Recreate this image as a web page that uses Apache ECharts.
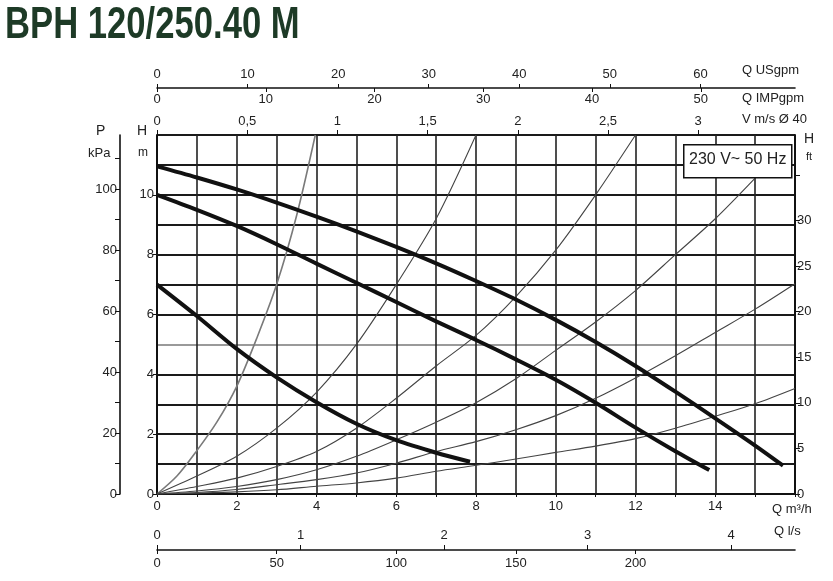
<!DOCTYPE html>
<html><head><meta charset="utf-8">
<script src="https://cdn.jsdelivr.net/npm/echarts@6/dist/echarts.min.js"></script>
<style>html,body{margin:0;padding:0;background:#fff}#c{width:833px;height:581px}</style>
</head><body><div id="c"></div>
<script>
// ---- text ----
const chartTitle = 'BPH 120/250.40 M';
const boxText = '230 V~ 50 Hz';

// ---- tick values ----
const qM3hLabels = [0, 2, 4, 6, 8, 10, 12, 14];
const hMLabels = [0, 2, 4, 6, 8, 10];
const pKpaTicks = [0, 10, 20, 30, 40, 50, 60, 70, 80, 90, 100, 110];
const pKpaLabels = [0, 20, 40, 60, 80, 100];
const hFtTicks = [0, 5, 10, 15, 20, 25, 30, 35];
const hFtLabels = [0, 5, 10, 15, 20, 25, 30];
const vLabels = [0, 0.5, 1, 1.5, 2, 2.5, 3];
const usgpmLabels = [0, 10, 20, 30, 40, 50, 60];
const impgpmLabels = [0, 10, 20, 30, 40, 50];
const lsLabels = [0, 1, 2, 3, 4];
const lminLabels = [0, 50, 100, 150, 200];

// ---- pump curves (Q m3/h, H m) ----
const pumpHighQ = [0, 1, 2, 3, 4, 5, 6, 7, 8, 9, 10, 11, 12, 13, 14, 15, 15.7];
const pumpHighH = [10.95, 10.58, 10.18, 9.74, 9.27, 8.78, 8.26, 7.71, 7.12, 6.5, 5.82, 5.08, 4.28, 3.42, 2.53, 1.62, 0.95];
const pumpMidQ = [0, 1, 2, 3, 4, 5, 6, 7, 8, 9, 10, 11, 12, 13, 13.85];
const pumpMidH = [10, 9.5, 8.96, 8.35, 7.7, 7.06, 6.42, 5.77, 5.15, 4.5, 3.82, 3.05, 2.22, 1.43, 0.8];
const pumpLowQ = [0, 1, 2, 3, 4, 5, 6, 7, 7.85];
const pumpLowH = [7, 5.95, 4.85, 3.9, 3.07, 2.35, 1.8, 1.38, 1.08];

// ---- system curves ----
const sys1Q = [0, 0.5, 1, 1.5, 2, 2.5, 3, 3.5, 3.97];
const sys1H = [0, 0.6, 1.45, 2.4, 3.6, 5.2, 7.0, 9.3, 12];
const sys2Q = [0, 1, 2, 3, 4, 5, 6, 7, 8];
const sys2H = [0, 0.6, 1.26, 2.2, 3.4, 5.0, 7.0, 9.2, 12];
const sys3Q = [0, 1, 2, 3, 4, 5, 6, 7, 8, 9, 10, 11, 12];
const sys3H = [0, 0.25, 0.53, 0.92, 1.42, 2.2, 3.2, 4.28, 5.3, 6.6, 8.15, 10.0, 12];
const sys4Q = [0, 1, 2, 3, 4, 5, 6, 7, 8, 9, 10, 11, 12, 13, 14, 15.03];
const sys4H = [0, 0.1, 0.25, 0.48, 0.81, 1.26, 1.81, 2.4, 3.05, 3.85, 4.8, 5.75, 6.8, 8.0, 9.2, 10.6];
const sys5Q = [0, 1, 2, 3, 4, 5, 6, 7, 8, 9, 10, 11, 12, 13, 14, 15, 16];
const sys5H = [0, 0.05, 0.15, 0.31, 0.48, 0.7, 1.03, 1.42, 1.75, 2.15, 2.62, 3.2, 3.88, 4.62, 5.4, 6.18, 7.03];
const sys6Q = [0, 1, 2, 3, 4, 5, 6, 7, 8, 9, 10, 11, 12, 13, 14, 15, 16];
const sys6H = [0, 0.03, 0.07, 0.14, 0.26, 0.37, 0.53, 0.76, 0.96, 1.17, 1.39, 1.6, 1.85, 2.2, 2.6, 3.02, 3.53];

// ---- unit conversions of the Q m3/h and H m scales ----
const Q_MAX = 16, H_MAX = 12;
const toVms = Q_MAX / 3600 / (Math.PI * 0.02 * 0.02);
const toUSgpm = Q_MAX * 4.4029;
const toIMPgpm = Q_MAX * 3.6662;
const toLs = Q_MAX / 3.6;
const toLmin = Q_MAX * 1000 / 60;
const toKpa = H_MAX * 9.80665;
const toFt = H_MAX / 0.3048;

const FONT = '"Liberation Sans Narrow","Liberation Sans",Arial,sans-serif';
const TXT = '#222';
const lbl = (extra) => Object.assign({ color: TXT, fontFamily: FONT, fontSize: 13 }, extra || {});
const zip = (qs, hs) => qs.map((q, i) => [q, hs[i]]);

const hLineColors = [];
for (let i = 0; i <= 12; i++) hLineColors.push(i === 5 ? '#9a9a9a' : '#1a1a1a');

const chart = echarts.init(document.getElementById('c'), null, { renderer: 'canvas' });

function pumpSeries(q, h) {
  return { type: 'line', xAxisIndex: 0, yAxisIndex: 0, data: zip(q, h), smooth: 0.3, showSymbol: false,
    lineStyle: { color: '#111', width: 4 }, z: 5, animation: false };
}
function sysSeries(q, h, color, w) {
  return { type: 'line', xAxisIndex: 0, yAxisIndex: 0, data: zip(q, h), smooth: 0.3, showSymbol: false,
    lineStyle: { color: color, width: w }, z: 4, animation: false };
}
const noZero = (o) => Object.assign({ onZero: false }, o);

const option = {
  backgroundColor: '#fff',
  animation: false,
  grid: { left: 157, right: 38, top: 135, bottom: 87, containLabel: false },
  xAxis: [
    { type: 'value', position: 'bottom', min: 0, max: Q_MAX, interval: 1,
      axisLine: noZero({ show: true, lineStyle: { color: '#111', width: 2 } }),
      axisTick: { show: true, length: 3, lineStyle: { color: '#111' } },
      axisLabel: Object.assign(lbl({ margin: 6 }), { customValues: qM3hLabels }),
      splitLine: { show: true, lineStyle: { color: '#222', width: 1.6 } } },
    { type: 'value', position: 'top', offset: 0, min: 0, max: toVms,
      axisLine: noZero({ show: false }),
      axisTick: { show: true, length: 5, customValues: vLabels, lineStyle: { color: '#111' } },
      axisLabel: Object.assign(lbl({ margin: 7, formatter: v => String(v).replace('.', ',') }), { customValues: vLabels }),
      splitLine: { show: false } },
    { type: 'value', position: 'top', offset: 47, min: 0, max: toUSgpm,
      axisLine: noZero({ show: true, lineStyle: { color: '#111', width: 1.6 } }),
      axisTick: { show: true, length: 4, customValues: usgpmLabels, lineStyle: { color: '#111' } },
      axisLabel: Object.assign(lbl({ margin: 7 }), { customValues: usgpmLabels }),
      splitLine: { show: false } },
    { type: 'value', position: 'top', offset: 47, min: 0, max: toIMPgpm,
      axisLine: noZero({ show: false }),
      axisTick: { show: true, inside: true, length: 4, customValues: impgpmLabels, lineStyle: { color: '#111' } },
      axisLabel: Object.assign(lbl({ margin: 5, inside: true }), { customValues: impgpmLabels }),
      splitLine: { show: false } },
    { type: 'value', position: 'bottom', offset: 56, min: 0, max: toLs,
      axisLine: noZero({ show: true, lineStyle: { color: '#111', width: 1.6 } }),
      axisTick: { show: true, inside: true, length: 5, customValues: lsLabels, lineStyle: { color: '#111' } },
      axisLabel: Object.assign(lbl({ margin: 8, inside: true }), { customValues: lsLabels }),
      splitLine: { show: false } },
    { type: 'value', position: 'bottom', offset: 56, min: 0, max: toLmin,
      axisLine: noZero({ show: false }),
      axisTick: { show: true, length: 4, customValues: lminLabels, lineStyle: { color: '#111' } },
      axisLabel: Object.assign(lbl({ margin: 7 }), { customValues: lminLabels }),
      splitLine: { show: false } }
  ],
  yAxis: [
    { type: 'value', position: 'left', min: 0, max: H_MAX, interval: 1,
      axisLine: noZero({ show: true, lineStyle: { color: '#111', width: 2 } }),
      axisTick: { show: false },
      axisLabel: { show: false },
      splitLine: { show: true, lineStyle: { color: hLineColors, width: 1.8 } } },
    { type: 'value', position: 'left', offset: 37, min: 0, max: toKpa,
      axisLine: noZero({ show: true, lineStyle: { color: '#111', width: 1.6 } }),
      axisTick: { show: true, length: 5, customValues: pKpaTicks, lineStyle: { color: '#111' } },
      axisLabel: Object.assign(lbl({ margin: 3 }), { customValues: pKpaLabels }),
      splitLine: { show: false } },
    { type: 'value', position: 'right', offset: 0, min: 0, max: toFt,
      axisLine: noZero({ show: true, lineStyle: { color: '#111', width: 2 } }),
      axisTick: { show: true, length: 5, customValues: hFtTicks, lineStyle: { color: '#111' } },
      axisLabel: Object.assign(lbl({ margin: 2 }), { customValues: hFtLabels }),
      splitLine: { show: false } },
    { type: 'value', position: 'left', offset: 0, min: 0, max: H_MAX,
      axisLine: noZero({ show: false }),
      axisTick: { show: true, length: 4, customValues: hMLabels, lineStyle: { color: '#111' } },
      axisLabel: Object.assign(lbl({ margin: 3 }), { customValues: hMLabels }),
      splitLine: { show: false } }
  ],
  graphic: [
    { type: 'text', left: 5, top: 3, scaleX: 0.77, originX: 0,
      style: { text: chartTitle, fill: '#1d3a26', font: 'bold 45px "Liberation Sans",Arial,sans-serif' } },
    { type: 'rect', left: 683, top: 144, z: 20, shape: { width: 108, height: 33 },
      style: { fill: '#fff', stroke: '#111', lineWidth: 1.5 } },
    { type: 'text', left: 689, top: 152, z: 21,
      style: { text: boxText, fill: TXT, font: '16px ' + FONT } },
    { type: 'text', left: 742, top: 64, style: { text: 'Q USgpm', fill: TXT, font: '13px ' + FONT } },
    { type: 'text', left: 742, top: 92, style: { text: 'Q IMPgpm', fill: TXT, font: '13px ' + FONT } },
    { type: 'text', left: 742, top: 113, style: { text: 'V m/s Ø 40', fill: TXT, font: '13px ' + FONT } },
    { type: 'text', left: 804, top: 132, style: { text: 'H', fill: TXT, font: '14px ' + FONT } },
    { type: 'text', left: 806, top: 151, style: { text: 'ft', fill: TXT, font: '11px ' + FONT } },
    { type: 'text', left: 96, top: 124, style: { text: 'P', fill: TXT, font: '14px ' + FONT } },
    { type: 'text', left: 88, top: 147, style: { text: 'kPa', fill: TXT, font: '13px ' + FONT } },
    { type: 'text', left: 137, top: 124, style: { text: 'H', fill: TXT, font: '14px ' + FONT } },
    { type: 'text', left: 138, top: 147, style: { text: 'm', fill: TXT, font: '12px ' + FONT } },
    { type: 'text', left: 772, top: 503, style: { text: 'Q m³/h', fill: TXT, font: '13px ' + FONT } },
    { type: 'text', left: 774, top: 525, style: { text: 'Q l/s', fill: TXT, font: '13px ' + FONT } }
  ],
  series: [
    sysSeries(sys1Q, sys1H, '#7a7a7a', 1.6),
    sysSeries(sys2Q, sys2H, '#444', 1.1),
    sysSeries(sys3Q, sys3H, '#444', 1.1),
    sysSeries(sys4Q, sys4H, '#444', 1.1),
    sysSeries(sys5Q, sys5H, '#444', 1.1),
    sysSeries(sys6Q, sys6H, '#444', 1.1),
    pumpSeries(pumpHighQ, pumpHighH),
    pumpSeries(pumpMidQ, pumpMidH),
    pumpSeries(pumpLowQ, pumpLowH)
  ]
};
chart.setOption(option);
</script>
</body></html>
